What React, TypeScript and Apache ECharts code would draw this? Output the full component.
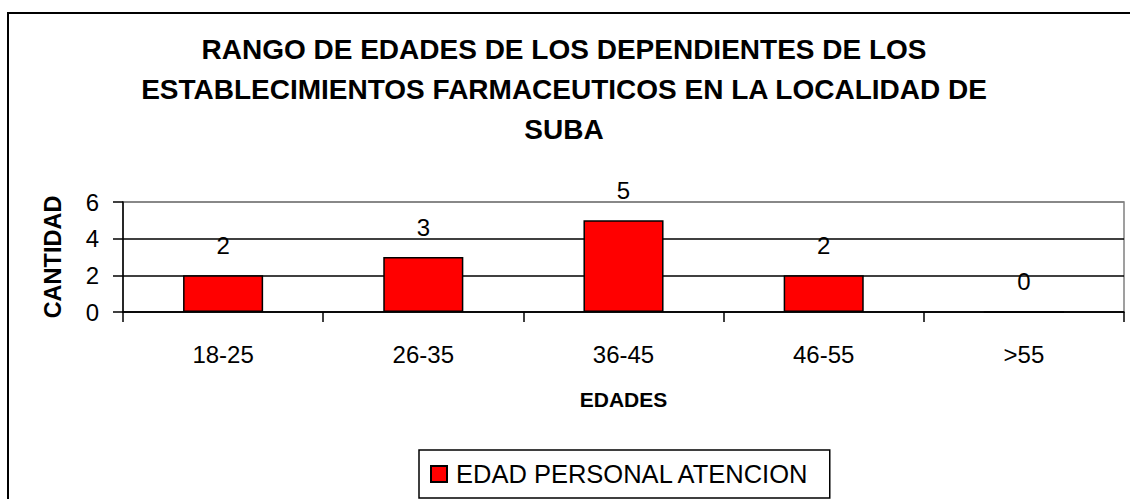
import React, { useEffect, useRef } from "react";
import * as echarts from "echarts";

const titleLines = [
  "RANGO DE EDADES DE LOS DEPENDIENTES DE LOS",
  "ESTABLECIMIENTOS FARMACEUTICOS EN LA LOCALIDAD DE",
  "SUBA",
];
const categories = ["18-25", "26-35", "36-45", "46-55", ">55"];
const values = [2, 3, 5, 2, 0];
const seriesName = "EDAD PERSONAL ATENCION";
const xAxisName = "EDADES";
const yAxisName = "CANTIDAD";
const yMin = 0;
const yMax = 6;
const yInterval = 2;

const FONT = "'Liberation Sans', Arial, Helvetica, sans-serif";

export default function App() {
  const ref = useRef<HTMLDivElement>(null);
  useEffect(() => {
    if (!ref.current) return;
    const chart = echarts.init(ref.current, undefined, { renderer: "svg" });
    chart.setOption({
      animation: false,
      backgroundColor: "#ffffff",
      textStyle: { fontFamily: FONT },
      title: {
        text: titleLines.join("\n"),
        left: 564,
        top: 29,
        padding: 0,
        textAlign: "center",
        textStyle: {
          fontFamily: FONT,
          fontSize: 28,
          fontWeight: "bold",
          color: "#000",
          lineHeight: 40,
        },
      },
      graphic: [
        {
          type: "polyline",
          shape: { points: [[8, 520], [8, 13], [1140, 13]] },
          style: { stroke: "#000", lineWidth: 2, fill: "none" },
          z: 100,
        },
      ],
      legend: {
        left: 419,
        top: 450,
        padding: [11, 20, 11, 11],
        borderColor: "#000",
        borderWidth: 1.5,
        itemWidth: 16,
        itemHeight: 16,
        icon: "rect",
        textStyle: {
          fontFamily: FONT,
          fontSize: 25.5,
          color: "#000",
          padding: [0, 0, 0, 4],
        },
        data: [seriesName],
      },
      grid: {
        left: 123,
        right: 6,
        top: 202,
        bottom: 187,
        show: true,
        borderColor: "#808080",
        borderWidth: 1.5,
        containLabel: false,
      },
      xAxis: {
        type: "category",
        data: categories,
        name: xAxisName,
        nameLocation: "middle",
        nameGap: 77,
        nameTextStyle: {
          fontFamily: FONT,
          fontSize: 21,
          fontWeight: "bold",
          color: "#000",
        },
        axisLine: { lineStyle: { color: "#000", width: 1.5 } },
        axisTick: { show: true, length: 10, lineStyle: { color: "#000", width: 1.5 } },
        axisLabel: { fontFamily: FONT, fontSize: 24, color: "#000", margin: 30 },
        splitLine: { show: false },
      },
      yAxis: {
        type: "value",
        min: yMin,
        max: yMax,
        interval: yInterval,
        name: yAxisName,
        nameLocation: "middle",
        nameGap: 58,
        nameRotate: 90,
        nameTextStyle: {
          fontFamily: FONT,
          fontSize: 23.5,
          fontWeight: "bold",
          color: "#000",
        },
        axisLine: { show: true, lineStyle: { color: "#000", width: 1.5 } },
        axisTick: { show: true, length: 10, lineStyle: { color: "#000", width: 1.5 } },
        axisLabel: { fontFamily: FONT, fontSize: 24, color: "#000", margin: 24 },
        splitLine: {
          show: true,
          lineStyle: { color: ["#000", "#000", "#000", "#808080"], width: 1.5 },
        },
      },
      series: [
        {
          name: seriesName,
          type: "bar",
          data: values,
          barWidth: "40%",
          itemStyle: { color: "#ff0000", borderColor: "#000", borderWidth: 1.5 },
          label: {
            show: true,
            position: "top",
            distance: 18,
            fontFamily: FONT,
            fontSize: 24,
            color: "#000",
          },
        },
      ],
    });
    return () => chart.dispose();
  }, []);
  return (
    <div
      ref={ref}
      style={{ position: "absolute", left: 0, top: 0, width: 1130, height: 499 }}
    />
  );
}
